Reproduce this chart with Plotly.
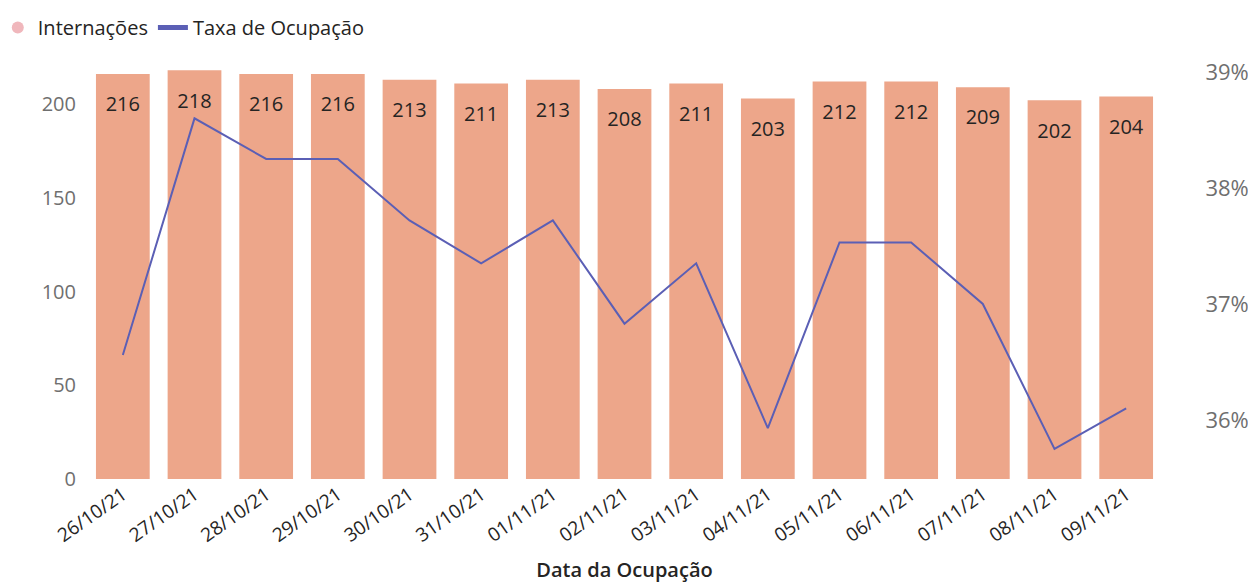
import plotly.graph_objects as go

datas = ["26/10/21", "27/10/21", "28/10/21", "29/10/21", "30/10/21", "31/10/21", "01/11/21",
         "02/11/21", "03/11/21", "04/11/21", "05/11/21", "06/11/21", "07/11/21", "08/11/21", "09/11/21"]
internacoes = [216, 218, 216, 216, 213, 211, 213, 208, 211, 203, 212, 212, 209, 202, 204]
taxa_ocupacao = [0.3656, 0.3860, 0.3825, 0.3825, 0.3772, 0.3735, 0.3772, 0.3683, 0.3735,
                 0.3593, 0.3753, 0.3753, 0.3700, 0.3575, 0.3610]

FONT = "Open Sans"
BAR_COLOR = "#EDA68A"
LINE_COLOR = "#5B5FB5"

fig = go.Figure()
fig.add_trace(go.Bar(
    x=datas, y=internacoes, name="Internações", showlegend=False,
    marker=dict(color=BAR_COLOR, line=dict(width=0)),
    hoverinfo="x+y",
))
# data labels inside the top of each bar
fig.add_trace(go.Scatter(
    x=datas, y=internacoes, mode="markers+text", showlegend=False,
    text=[str(v) for v in internacoes], textposition="bottom center",
    textfont=dict(family=FONT, size=20, color="#252423"),
    marker=dict(size=34, opacity=0), hoverinfo="skip", cliponaxis=False,
))
# legend entry for bars (circle marker as in the original legend)
fig.add_trace(go.Scatter(
    x=[None], y=[None], mode="markers", name="Internações",
    marker=dict(symbol="circle", size=18, color="#F0B7BC"),
))
fig.add_trace(go.Scatter(
    x=datas, y=taxa_ocupacao, name="Taxa de Ocupação", mode="lines",
    line=dict(color=LINE_COLOR, width=2), yaxis="y2",
))

fig.update_layout(
    width=1248, height=575,
    margin=dict(l=79, r=94, t=52, b=104, autoexpand=False),
    paper_bgcolor="white", plot_bgcolor="white",
    font=dict(family=FONT, color="#252423"),
    bargap=0.25,
    showlegend=True,
    legend=dict(orientation="h", x=-0.083, xref="paper", xanchor="left",
                y=1.0, yref="container", yanchor="top",
                font=dict(family=FONT, size=20, color="#252423"),
                itemsizing="constant", tracegroupgap=0, itemwidth=30),
    xaxis=dict(
        automargin=False, range=[-0.5, len(datas) - 0.5],
        tickangle=-35, tickfont=dict(family=FONT, size=19, color="#252423"),
        showgrid=False, showline=False, zeroline=False, ticks="",
        title=dict(text="Data da Ocupação",
                   font=dict(family=FONT, size=20, color="#252423", weight=600),
                   standoff=20),
    ),
    yaxis=dict(
        automargin=False,
        range=[0, 223.5], tickvals=[0, 50, 100, 150, 200],
        tickfont=dict(family=FONT, size=20, color="#6f6f6f"),
        showgrid=False, showline=False, zeroline=False, ticks="outside", ticklen=6,
        tickcolor="rgba(0,0,0,0)",
    ),
    yaxis2=dict(
        automargin=False,
        overlaying="y", side="right", range=[0.35491, 0.39103],
        tickvals=[0.36, 0.37, 0.38, 0.39], tickformat=".0%",
        tickfont=dict(family=FONT, size=22, color="#6f6f6f"),
        showgrid=False, showline=False, zeroline=False, ticks="outside", ticklen=38,
        tickcolor="rgba(0,0,0,0)",
    ),
)

fig.write_html("out.html")
